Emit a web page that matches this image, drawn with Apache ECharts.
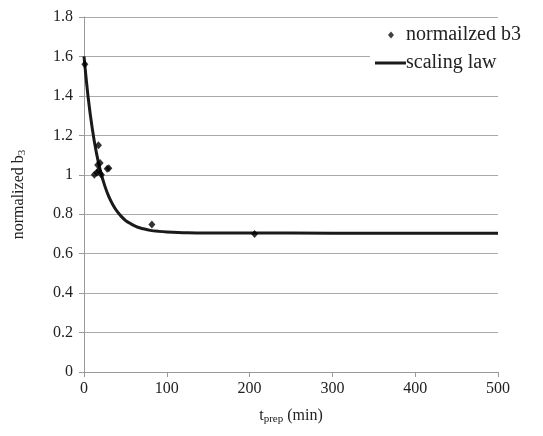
<!DOCTYPE html>
<html><head><meta charset="utf-8">
<script src="https://cdn.jsdelivr.net/npm/echarts@6/dist/echarts.min.js"></script>
<style>html,body{margin:0;padding:0;background:#fff}#c{width:543px;height:436px}</style>
</head><body><div id="c"></div>
<script>
const scatterT = [1, 12.5, 15.5, 17.5, 16.5, 17.5, 19.5, 21, 28, 30, 82, 206];
const scatterB = [1.56, 1.0, 1.01, 1.15, 1.05, 1.02, 1.06, 1.0, 1.03, 1.033, 0.748, 0.70];
const lawT = [0, 5, 10, 15, 20, 25, 30, 35, 40, 45, 50, 55, 60, 65, 70, 80, 90, 100, 125, 150, 200, 300, 400, 500];
const lawB = [1.600, 1.393, 1.234, 1.111, 1.017, 0.945, 0.889, 0.847, 0.814, 0.789, 0.769, 0.755, 0.743, 0.734, 0.728, 0.718, 0.713, 0.710, 0.706, 0.705, 0.705, 0.704, 0.704, 0.704];
const xTicks = [0, 100, 200, 300, 400, 500];
const yTicks = [0, 0.2, 0.4, 0.6, 0.8, 1, 1.2, 1.4, 1.6, 1.8];

const font = 'Liberation Serif';
const txt = {fontFamily: font, fontSize: 16, color: '#222'};
const legTxt = {fontFamily: font, fontSize: 20, color: '#222'};
const chart = echarts.init(document.getElementById('c'));
chart.setOption({
  animation: false,
  grid: {left: 84, right: 45, top: 17, bottom: 64},
  graphic: [{type: 'rect', shape: {x: 370, y: 24, width: 160, height: 54}, style: {fill: '#fff'}, z: 1}],
  legend: [
    {
      left: 388, top: 25, z: 5, padding: 0,
      textStyle: Object.assign({}, legTxt, {padding: [0, 0, 0, 7]}),
      itemWidth: 6, itemHeight: 7,
      data: [{name: 'normailzed b3', icon: 'diamond', itemStyle: {color: '#111'}}]
    },
    {
      left: 375, top: 53, z: 5, padding: 0,
      textStyle: Object.assign({}, legTxt, {padding: [0, 0, 0, -5]}),
      itemWidth: 31, itemHeight: 3,
      data: [{name: 'scaling law', icon: 'rect', itemStyle: {color: '#1a1a1a'}}]
    }
  ],
  xAxis: {
    type: 'value', min: 0, max: 500, interval: 100,
    axisLine: {lineStyle: {color: '#999'}},
    axisTick: {show: true, length: 5, lineStyle: {color: '#999'}},
    splitLine: {show: false},
    axisLabel: Object.assign({}, txt, {margin: 9,
      formatter: v => xTicks.includes(v) ? String(v) : ''}),
    name: '{t|t}{s|prep}{t| (min)}', nameLocation: 'middle', nameGap: 34,
    nameTextStyle: {rich: {
      t: txt,
      s: {fontFamily: font, fontSize: 11, color: '#222', padding: [8, 0, 0, 0]}
    }}
  },
  yAxis: {
    type: 'value', min: 0, max: 1.8, interval: 0.2,
    axisLine: {show: true, lineStyle: {color: '#999'}},
    axisTick: {show: true, length: 5, lineStyle: {color: '#999'}},
    splitLine: {lineStyle: {color: '#aaa', width: 1}},
    axisLabel: Object.assign({}, txt, {margin: 11,
      formatter: v => { const r = Math.round(v * 10) / 10; return yTicks.includes(r) ? String(r) : ''; }}),
    name: '{t|normalized b}{s|3}', nameLocation: 'middle', nameGap: 56,
    nameTextStyle: {rich: {
      t: txt,
      s: {fontFamily: font, fontSize: 11, color: '#222', padding: [8, 0, 0, 0]}
    }}
  },
  series: [
    {
      name: 'normailzed b3', type: 'scatter', symbol: 'diamond', symbolSize: [7, 8],
      itemStyle: {color: '#000'}, z: 3,
      data: scatterT.map((t, i) => [t, scatterB[i]])
    },
    {
      name: 'scaling law', type: 'line', smooth: 0.3, showSymbol: false, symbol: 'none',
      lineStyle: {color: '#1a1a1a', width: 3}, itemStyle: {color: '#1a1a1a'}, z: 2,
      data: lawT.map((t, i) => [t, lawB[i]])
    }
  ]
});
</script></body></html>
